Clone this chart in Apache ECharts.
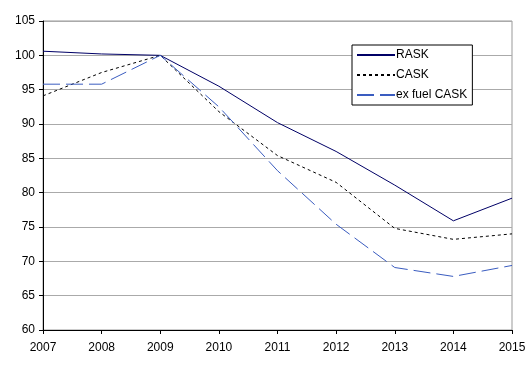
<!DOCTYPE html>
<html><head><meta charset="utf-8">
<script src="https://cdn.jsdelivr.net/npm/echarts@6/dist/echarts.min.js"></script>
<style>html,body{margin:0;padding:0;background:#fff}#c{width:531px;height:367px}</style>
</head><body><div id="c"></div>
<script>
const years = ['2007','2008','2009','2010','2011','2012','2013','2014','2015'];
const rask = [100.6, 100.2, 100.0, 95.5, 90.2, 86.0, 81.1, 75.9, 79.2];
const cask = [94.1, 97.5, 100.0, 91.8, 85.4, 81.5, 74.8, 73.2, 74.0];
const exFuelCask = [95.8, 95.8, 100.0, 92.5, 83.2, 75.4, 69.1, 67.8, 69.4];
const yMin = 60, yMax = 105, yStep = 5;

const font = 'Liberation Sans, Arial, sans-serif';
const chart = echarts.init(document.getElementById('c'));
chart.setOption({
  animation: false,
  backgroundColor: '#fff',
  textStyle: {fontFamily: font, color: '#000'},
  grid: {left: 43, right: 19, top: 21, bottom: 37, show: true, borderColor: '#999', borderWidth: 1},
  legend: {
    orient: 'vertical', left: 352, top: 45,
    padding: [4, 5, 4, 4], itemGap: 8, itemWidth: 38, itemHeight: 12,
    backgroundColor: '#fff', borderColor: '#000', borderWidth: 1,
    itemStyle: {opacity: 0},
    textStyle: {fontFamily: font, fontSize: 12, color: '#000', padding: [0,0,0,-4]},
    data: ['RASK', 'CASK', 'ex fuel CASK']
  },
  xAxis: {
    type: 'category', data: years, boundaryGap: false,
    axisLine: {lineStyle: {color: '#000', width: 1}},
    axisTick: {length: 4, lineStyle: {color: '#000'}},
    axisLabel: {color: '#000', fontSize: 12, fontFamily: font, margin: 12}
  },
  yAxis: {
    type: 'value', min: yMin, max: yMax, interval: yStep,
    axisLine: {show: true, lineStyle: {color: '#000', width: 1}},
    axisTick: {show: true, length: 4, lineStyle: {color: '#000'}},
    axisLabel: {color: '#000', fontSize: 12, fontFamily: font, margin: 8},
    splitLine: {lineStyle: {color: '#aaa', width: 1}}
  },
  series: [
    {name: 'RASK', type: 'line', data: rask, symbol: 'none', color: '#000066',
     lineStyle: {color: '#000066', width: 1}},
    {name: 'CASK', type: 'line', data: cask, symbol: 'none', color: '#000',
     lineStyle: {color: '#000', width: 1, type: [3, 3]}},
    {name: 'ex fuel CASK', type: 'line', data: exFuelCask, symbol: 'none', color: '#3a5cc0',
     lineStyle: {color: '#3a5cc0', width: 1, type: [17, 6]}}
  ]
});
</script></body></html>
